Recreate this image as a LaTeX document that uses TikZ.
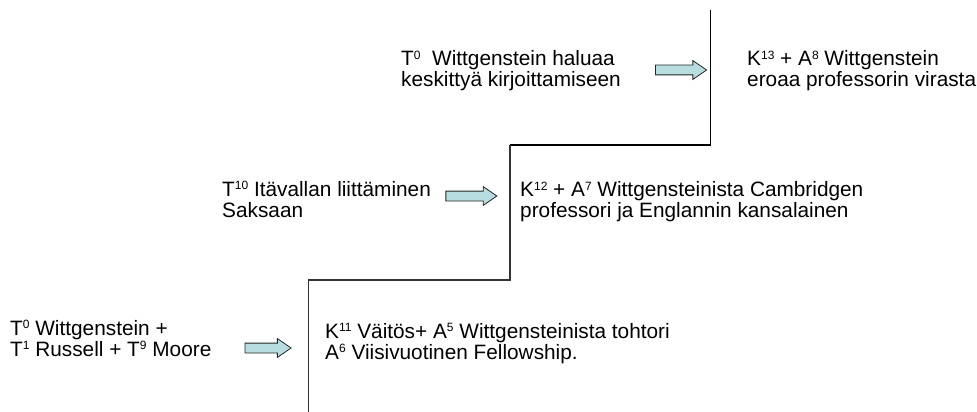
\documentclass[tikz,border=0pt]{standalone}
\usepackage{fontspec}
\setmainfont{Liberation Sans}
\usetikzlibrary{shapes.arrows}
\definecolor{arrowfill}{RGB}{183,221,224}
\definecolor{stairgray}{RGB}{51,51,51}
\tikzset{
  txt/.style={anchor=west, align=left, inner sep=0pt, font=\fontsize{20.8}{21}\selectfont},
  blockarrow/.style={single arrow, draw=black!85, line width=0.8pt, fill=arrowfill,
    minimum height=51pt, inner xsep=0pt, inner ysep=4.5pt,
    single arrow head extend=4.5pt, single arrow tip angle=69, anchor=center},
  stairtop/.style={draw=black, line width=1.3pt},
  stairlow/.style={draw=stairgray, line width=1.6pt}
}
\newcommand{\sps}[1]{\raisebox{6.3pt}{\fontsize{12}{12}\selectfont #1}}
\begin{document}
\begin{tikzpicture}[x=1pt,y=-1pt]
\useasboundingbox (0,0) rectangle (977,412);
% staircase
\coordinate (s0) at (710.5,10);
\coordinate (s1) at (710.5,145);
\coordinate (s2) at (510,145);
\coordinate (s3) at (510,280);
\coordinate (s4) at (308.5,280);
\coordinate (s5) at (308.5,412);
\draw[stairtop] (s0) -- (s1) -- (s2);
\draw[stairlow] (s2) -- (s3) -- (s4) -- (s5);
% texts
\node[txt] (t1) at (401,70.9) {T\sps{0}\ \ Wittgenstein haluaa\\keskittyä kirjoittamiseen};
\node[txt] (k1) at (747,70.9) {K\sps{13} + A\sps{8} Wittgenstein\\eroaa professorin virasta};
\node[txt] (t2) at (222,199.3) {T\sps{10} Itävallan liittäminen\\Saksaan};
\node[txt] (k2) at (520,201.5) {K\sps{12} + A\sps{7} Wittgensteinista Cambridgen\\professori ja Englannin kansalainen};
\node[txt] (t3) at (10,338.3) {T\sps{0} Wittgenstein +\\T\sps{1} Russell + T\sps{9} Moore};
\node[txt] (k3) at (325,343.2) {K\sps{11} Väitös+ A\sps{5} Wittgensteinista tohtori\\A\sps{6} Viisivuotinen Fellowship.};
% arrows
\node[blockarrow] (a1) at (677.5,70) {};
\node[blockarrow] (a2) at (467.8,196) {};
\node[blockarrow, minimum height=46pt] (a3) at (264.5,348) {};
\end{tikzpicture}
\end{document}
